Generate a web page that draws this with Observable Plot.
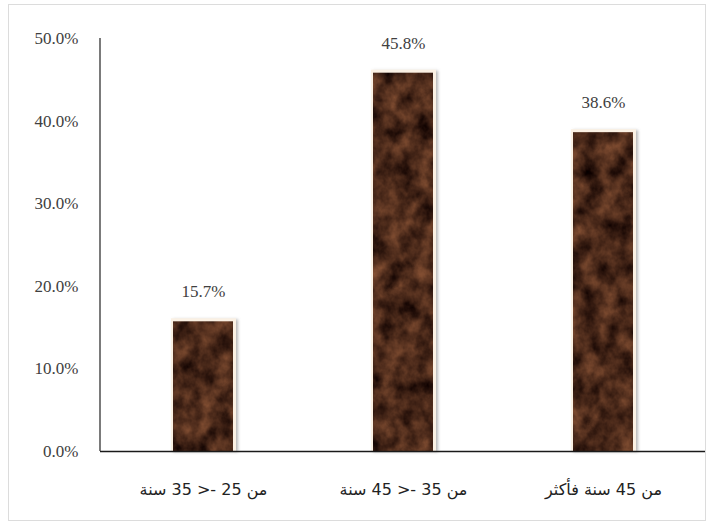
<!DOCTYPE html>
<html>
<head>
<meta charset="utf-8">
<script src="https://cdn.jsdelivr.net/npm/d3@7"></script>
<script src="https://cdn.jsdelivr.net/npm/@observablehq/plot@0.6"></script>
<style>
  html, body { margin: 0; padding: 0; background: #fff; }
  #chart { width: 714px; height: 524px; }
</style>
</head>
<body>
<div id="chart"></div>
<script>
// Age groups and their share of respondents
const categories = ["من 25 -< 35 سنة", "من 35 -< 45 سنة", "من 45 سنة فأكثر"];
const shares = [0.157, 0.458, 0.386];
const yTicks = [0, 0.1, 0.2, 0.3, 0.4, 0.5];

const data = categories.map((category, i) => ({category, share: shares[i]}));
const fmt = d3.format(".1%");

const plot = Plot.plot({
  width: 714,
  height: 524,
  marginLeft: 100,
  marginRight: 9,
  marginTop: 38,
  marginBottom: 73,
  style: {
    fontFamily: "'Liberation Serif', 'Times New Roman', serif",
    fontSize: "17px",
    color: "#404040",
    background: "transparent",
    overflow: "visible"
  },
  x: {domain: categories, paddingInner: 0.7, paddingOuter: 0.36, label: null},
  y: {domain: [0, 0.5], label: null},
  marks: [
    Plot.axisY(yTicks, {tickSize: 0, tickPadding: 22, tickFormat: fmt, fontSize: 17, fill: "#404040"}),
    Plot.axisX({tickSize: 0, tickPadding: 32, fontSize: 16, fill: "#222",
      fontFamily: "'DejaVu Sans', 'Liberation Serif', serif"}),
    // light rim behind each bar
    Plot.barY(data, {x: "category", y: "share", fill: "#fbf1e4",
      insetLeft: -2, insetRight: -3, insetTop: -3}),
    // marbled bar body
    Plot.barY(data, {x: "category", y: "share", fill: "url(#marble)"}),
    Plot.ruleY([0], {stroke: "#1a1a1a", strokeWidth: 1.6}),
    Plot.text(data, {x: "category", y: "share", text: d => fmt(d.share), dy: -30,
      fontSize: 17, fill: "#404040"})
  ]
});

document.getElementById("chart").appendChild(plot);

const svg = d3.select(plot);
const defs = svg.insert("defs", ":first-child");

// brown marble texture from fractal noise
const noise = defs.append("filter").attr("id", "marbleNoise")
  .attr("x", 0).attr("y", 0).attr("width", 1).attr("height", 1)
  .attr("color-interpolation-filters", "sRGB");
noise.append("feTurbulence").attr("type", "fractalNoise")
  .attr("baseFrequency", "0.06 0.05").attr("numOctaves", 4).attr("seed", 7).attr("result", "n");
noise.append("feColorMatrix").attr("in", "n").attr("type", "matrix")
  .attr("values", "0.6 0 0 0 -0.01  0.4 0 0 0 -0.04  0.26 0 0 0 -0.03  0 0 0 0 1");

const pat = defs.append("pattern").attr("id", "marble")
  .attr("patternUnits", "userSpaceOnUse").attr("width", 714).attr("height", 524);
pat.append("rect").attr("width", 714).attr("height", 524).attr("filter", "url(#marbleNoise)");

// soft shadow around the rims
const glow = defs.append("filter").attr("id", "rimShadow")
  .attr("x", "-30%").attr("y", "-10%").attr("width", "160%").attr("height", "120%");
glow.append("feGaussianBlur").attr("in", "SourceAlpha").attr("stdDeviation", 1.6).attr("result", "b");
glow.append("feOffset").attr("in", "b").attr("dx", 2).attr("dy", 1).attr("result", "o");
glow.append("feFlood").attr("flood-color", "#888").attr("flood-opacity", 0.6).attr("result", "c");
glow.append("feComposite").attr("in", "c").attr("in2", "o").attr("operator", "in").attr("result", "s");
const merge = glow.append("feMerge");
merge.append("feMergeNode").attr("in", "s");
merge.append("feMergeNode").attr("in", "SourceGraphic");

const barGroups = svg.selectAll("g[aria-label='bar']").nodes();
if (barGroups.length) d3.select(barGroups[0]).attr("filter", "url(#rimShadow)");

// right-to-left Arabic tick labels
svg.selectAll("g[aria-label='x-axis tick label'] text").attr("direction", "rtl");

// vertical axis line drawn from the y scale
const y = plot.scale("y");
svg.append("line")
  .attr("x1", 100).attr("x2", 100)
  .attr("y1", y.apply(0.5)).attr("y2", y.apply(0))
  .attr("stroke", "#333").attr("stroke-width", 1.3);

// thin outer border
svg.append("rect")
  .attr("x", 8.5).attr("y", 4.5).attr("width", 697).attr("height", 516)
  .attr("fill", "none").attr("stroke", "#dcdcdc");
</script>
</body>
</html>
